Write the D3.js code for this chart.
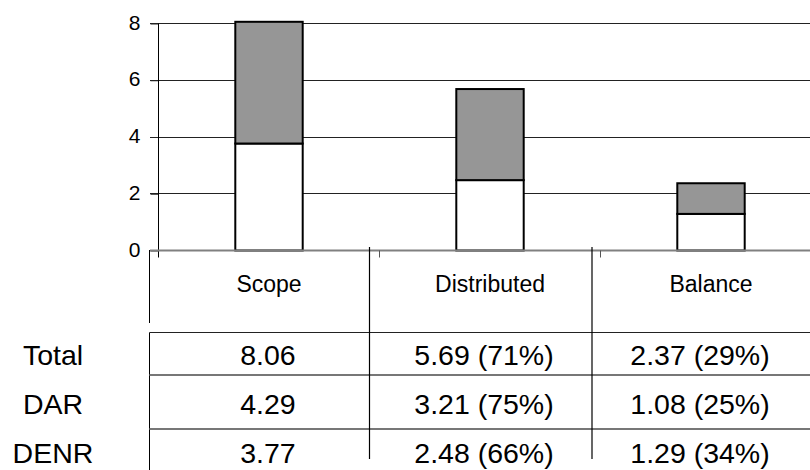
<!DOCTYPE html>
<html>
<head>
<meta charset="utf-8">
<script src="https://cdn.jsdelivr.net/npm/d3@7"></script>
<style>
  html, body { margin: 0; padding: 0; background: #fff; }
  svg { display: block; font-family: "Liberation Sans", Arial, sans-serif; }
</style>
</head>
<body>
<svg id="chart" width="810" height="470"></svg>
<script>
// Land distribution (millions of ha) by agency
const categories = ["Scope", "Distributed", "Balance"];
const dar  = [4.29, 3.21, 1.08];
const denr = [3.77, 2.48, 1.29];
const yTicks = [0, 2, 4, 6, 8];
const rowLabels = ["Total", "DAR", "DENR"];

const totals = categories.map((c, i) => +(dar[i] + denr[i]).toFixed(2));
const rows = [totals, dar, denr];

const svg = d3.select("#chart");
const W = 810, H = 470;

// scales
const x = d3.scaleBand().domain(categories).range([158.5, 821.5]);
const y = d3.scaleLinear().domain([0, 8]).range([250.5, 23.5]);
const tableX = d3.scaleBand().domain(categories).range([160, 808]);
const barW = x.bandwidth() * 0.305;

// horizontal gridlines
svg.append("g").selectAll("line")
  .data(yTicks.filter(t => t > 0))
  .join("line")
  .attr("x1", 150).attr("x2", W)
  .attr("y1", d => y(d)).attr("y2", d => y(d))
  .attr("stroke", "#222").attr("stroke-width", 1)
  .attr("shape-rendering", "crispEdges");

// y axis
const yAxis = d3.axisLeft(y).tickValues(yTicks).tickSize(8).tickPadding(10);
const gy = svg.append("g").attr("transform", "translate(158.5,0)").call(yAxis);
gy.select(".domain").remove();
gy.selectAll(".tick line").attr("stroke", "#222");
gy.selectAll(".tick text")
  .attr("font-size", 21).attr("fill", "#000")
  .attr("font-family", "'Liberation Sans', Arial, sans-serif")
  .attr("dy", "0.27em");
svg.append("line")
  .attr("x1", 158.5).attr("x2", 158.5)
  .attr("y1", y(8)).attr("y2", y(0) + 7)
  .attr("stroke", "#000").attr("stroke-width", 1);

// stacked bars: DENR at the bottom, DAR on top
const table = categories.map((c, i) => ({ cat: c, DENR: denr[i], DAR: dar[i] }));
const stack = d3.stack().keys(["DENR", "DAR"])(table);
const fills = { DENR: "#ffffff", DAR: "#969696" };

svg.append("g").selectAll("g")
  .data(stack)
  .join("g")
  .attr("fill", d => fills[d.key])
  .selectAll("rect")
  .data(d => d)
  .join("rect")
  .attr("x", d => x(d.data.cat) + (x.bandwidth() - barW) / 2)
  .attr("width", barW)
  .attr("y", d => y(d[1]))
  .attr("height", d => y(d[0]) - y(d[1]))
  .attr("stroke", "#000").attr("stroke-width", 2);

// x axis baseline and category boundary ticks
svg.append("line")
  .attr("x1", 150).attr("x2", W)
  .attr("y1", y(0)).attr("y2", y(0))
  .attr("stroke", "#808080").attr("stroke-width", 2);
svg.append("g").selectAll("line")
  .data(categories.slice(1))
  .join("line")
  .attr("x1", d => x(d)).attr("x2", d => x(d))
  .attr("y1", y(0)).attr("y2", y(0) + 7)
  .attr("stroke", "#555").attr("stroke-width", 1);

// category labels
svg.append("g").selectAll("text")
  .data(categories)
  .join("text")
  .attr("x", d => x(d) + x.bandwidth() / 2)
  .attr("y", 292)
  .attr("text-anchor", "middle")
  .attr("font-size", 23)
  .text(d => d);

// data table frame
const tableLeft = 149.5, tableTop = 332.5;
const colEdges = [369.5, 592];
const rowLines = [375, 429];
const baselines = [364.5, 414, 462.5];

svg.append("line")
  .attr("x1", tableLeft).attr("x2", tableLeft)
  .attr("y1", 250).attr("y2", 323)
  .attr("stroke", "#000").attr("stroke-width", 1);
svg.append("line")
  .attr("x1", tableLeft).attr("x2", tableLeft)
  .attr("y1", tableTop).attr("y2", H)
  .attr("stroke", "#000").attr("stroke-width", 1);
svg.append("line")
  .attr("x1", tableLeft).attr("x2", W)
  .attr("y1", tableTop).attr("y2", tableTop)
  .attr("stroke", "#222").attr("stroke-width", 1);
svg.append("g").selectAll("line")
  .data(rowLines)
  .join("line")
  .attr("x1", tableLeft).attr("x2", W)
  .attr("y1", d => d).attr("y2", d => d)
  .attr("stroke", "#777").attr("stroke-width", 2);
svg.append("g").selectAll("line")
  .data(colEdges)
  .join("line")
  .attr("x1", d => d).attr("x2", d => d)
  .attr("y1", 247).attr("y2", 459)
  .attr("stroke", "#000").attr("stroke-width", 1.2);

// row labels
svg.append("g").selectAll("text")
  .data(rowLabels)
  .join("text")
  .attr("x", 53)
  .attr("y", (d, i) => baselines[i])
  .attr("text-anchor", "middle")
  .attr("font-size", 28.5)
  .text(d => d);

// table cells: values with share of scope
const cellText = (row, i) => {
  const v = row[i];
  if (i === 0) return v.toFixed(2);
  return `${v.toFixed(2)} (${Math.round(v / row[0] * 100)}%)`;
};
rows.forEach((row, r) => {
  svg.append("g").selectAll("text")
    .data(categories)
    .join("text")
    .attr("x", d => tableX(d) + tableX.bandwidth() / 2)
    .attr("y", baselines[r])
    .attr("text-anchor", "middle")
    .attr("font-size", 28.5)
    .text((d, i) => cellText(row, i));
});
</script>
</body>
</html>
